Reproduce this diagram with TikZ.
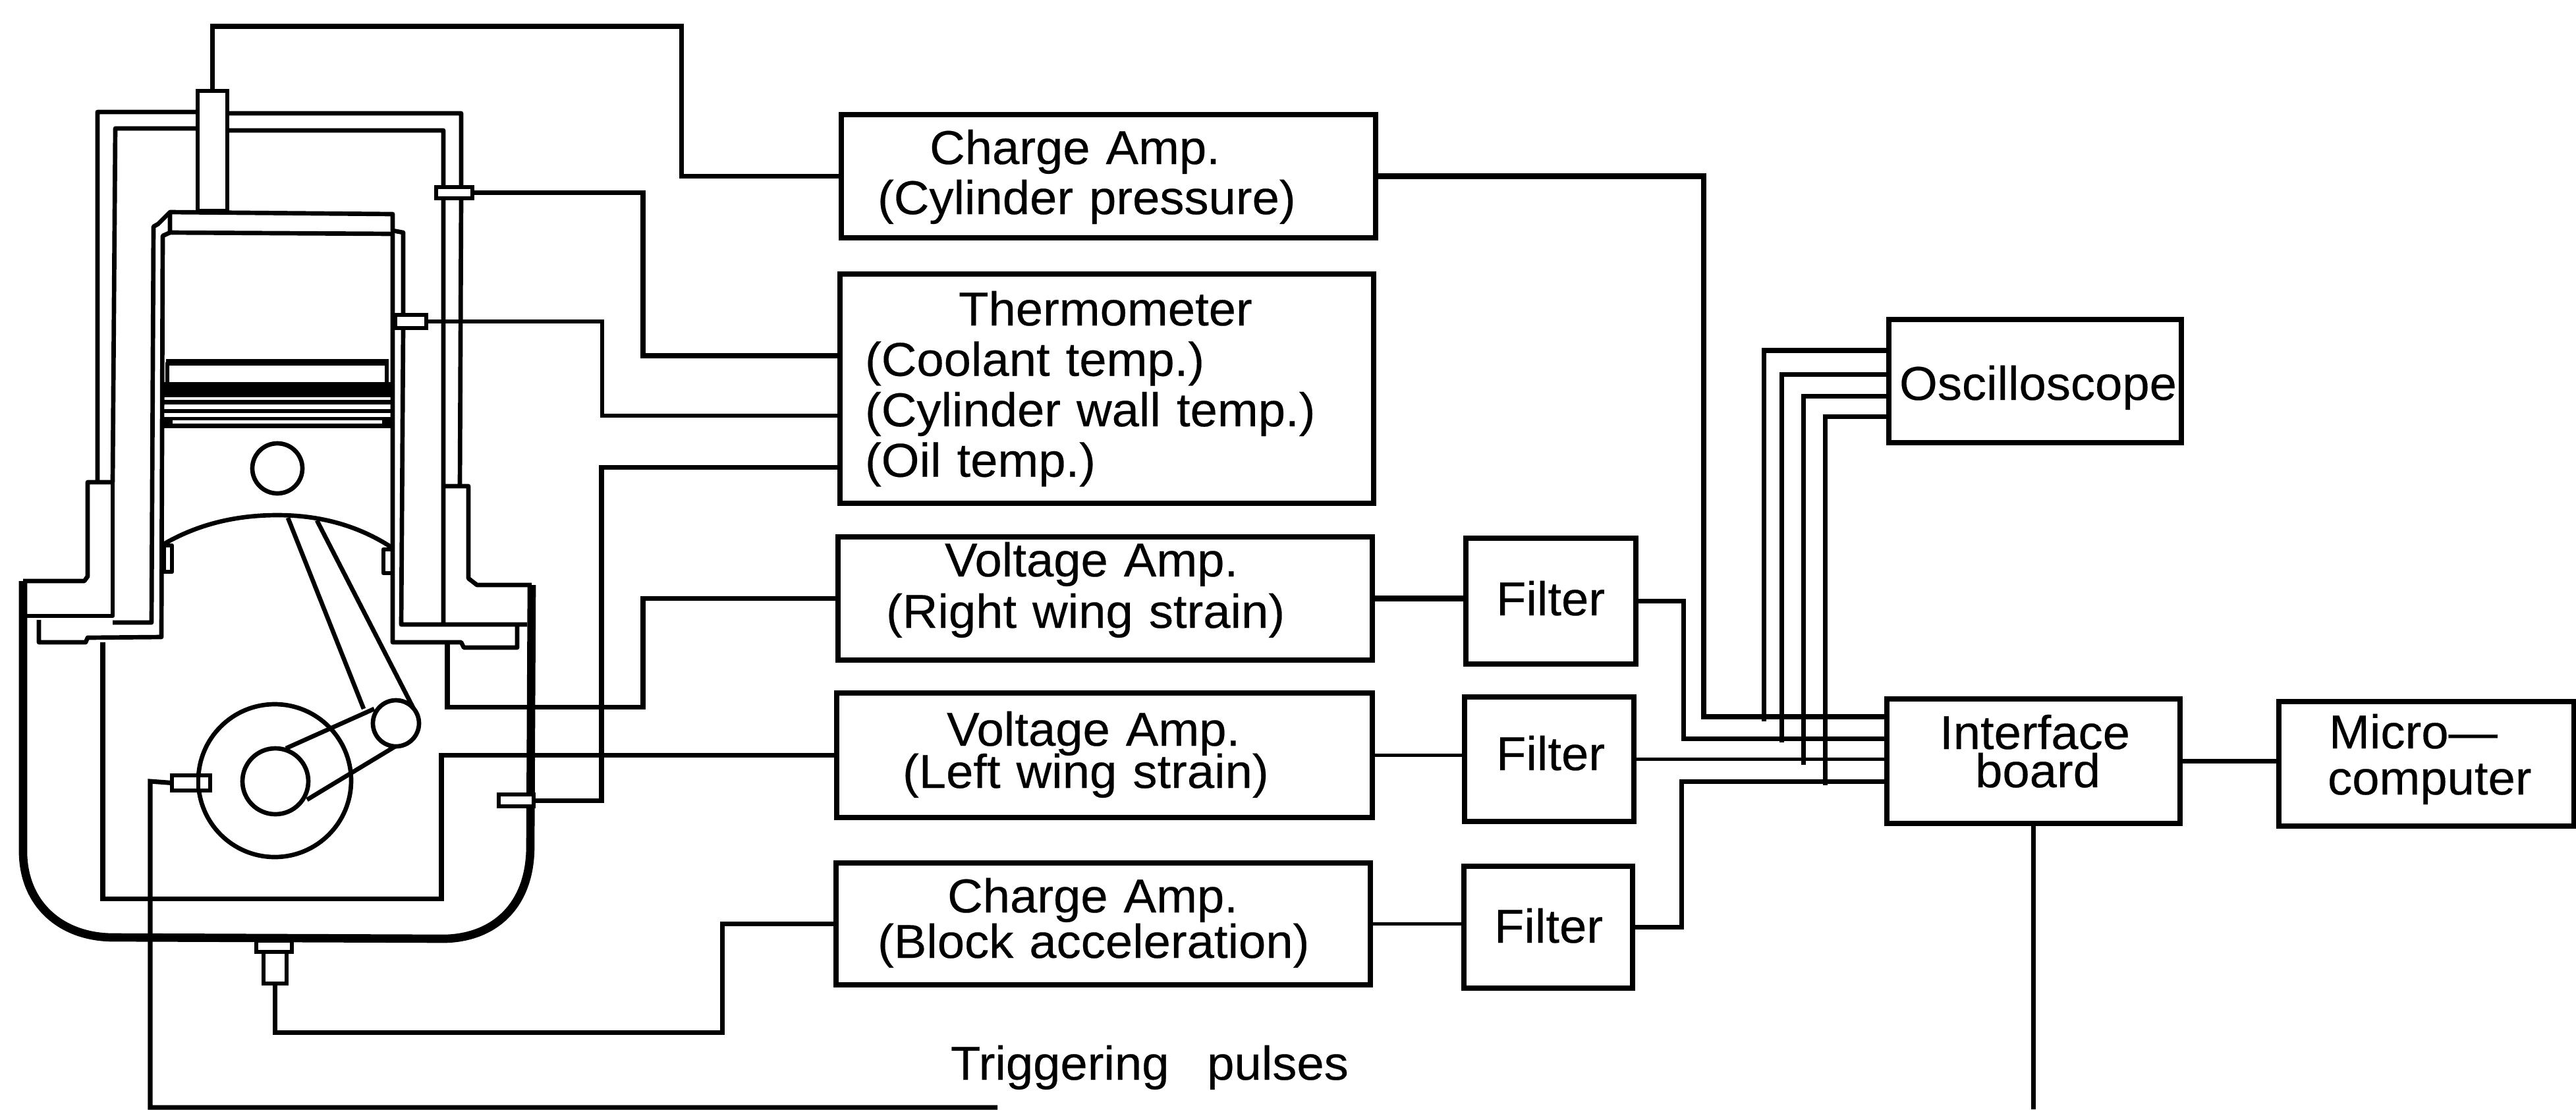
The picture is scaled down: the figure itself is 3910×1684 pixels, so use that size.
\documentclass[tikz,border=0pt]{standalone}
\usepackage{fontspec}
\setmainfont[WordSpace=2.8,FakeStretch=1.03,FakeBold=0.3]{Liberation Sans}
\tikzset{
  wire/.style={line width=2pt,line join=miter},
  thinwire/.style={line width=1.5pt},
  heavywire/.style={line width=2.5pt},
  part/.style={line width=1.9pt,line join=round},
  wall/.style={line width=3.6pt,line join=round},
  box/.style={draw,line width=2.3pt,inner sep=0pt,outer sep=0pt,align=left},
  sensor/.style={draw,fill=white,line width=1.9pt,inner sep=0pt,outer sep=0pt},
  plain/.style={inner sep=0pt,outer sep=0pt,font=\fontsize{20.5}{24}\selectfont}
}
\newcommand\tightlines{\lineskiplimit=-100pt\relax}
\newcommand\mybox[8]{%
  \pgfmathsetmacro\bw{(#4-#2)*0.01}%
  \pgfmathsetmacro\bh{(#6-#3)*0.01}%
  \pgfmathsetmacro\bd{(#5-#6)*0.01}%
  \pgfmathsetmacro\sk{#7*0.28453}%
  \node[box,anchor=north west,text width=\bw cm,text height=\bh cm,text depth=\bd cm,
    font=\fontsize{20.5}{\sk}\selectfont\tightlines] (#1) at (#2,#3) {#8};}
\newcommand\off[1]{\hspace*{#1cm}}
\newcommand\mysensor[5]{%
  \pgfmathsetmacro\sw{(#4-#2)*0.01}%
  \pgfmathsetmacro\sh{(#5-#3)*0.01}%
  \node[sensor,anchor=north west,minimum width=\sw cm,minimum height=\sh cm] (#1) at (#2,#3) {};}
\begin{document}
\begin{tikzpicture}[x=0.01cm,y=-0.01cm]
\useasboundingbox (0,0) rectangle (3910,1684);
% ---------- engine ----------
% coolant jacket and block top
\draw[part] (35,882) -- (128,882) -- (133,875) -- (133,732) -- (171,732);
\draw[part] (148,732) -- (148,170) -- (300,170) (345,172) -- (700,172) -- (700,284) (700,301) -- (698,738);
\draw[part] (171,732) -- (175,195) -- (300,195) (345,198) -- (673,198) -- (673,284) (673,301) -- (673,945);
\draw[part] (171,732) -- (171,935) -- (35,935);
\draw[part] (673,738) -- (711,738) -- (711,878) -- (724,888) -- (807,888);
\draw[wall] (35,882) -- (35,1296) .. controls (37,1375) and (95,1423) .. (172,1423) -- (676,1425) .. controls (750,1423) and (805,1375) .. (805,1285) -- (807,888);
% cylinder walls and head
\draw[part] (171,945) -- (230,945) -- (233,344) -- (240,340) -- (258,322) -- (596,325) -- (596,350) -- (612,353) -- (612,478);
\draw[part] (612,498) -- (609,948) -- (800,948);
\draw[part] (258,322) -- (258,353) -- (596,355) -- (596,975) -- (700,975) -- (704,983) -- (785,983) -- (785,949);
\draw[part] (258,353) -- (247,358) -- (245,967) -- (133,968) -- (130,975) -- (59,975) -- (59,941);
% piston
\draw[line width=3pt] (252,550) -- (590,550);
\draw[part] (254,550) -- (254,582) (587,550) -- (587,582);
\fill (246,580) rectangle (594,603);
\fill (248,607) rectangle (594,614);
\fill (248,621) rectangle (594,627);
\fill (248,633) rectangle (594,650);
\fill[white] (262,638) rectangle (580,643);
\draw[part] (421,711) circle [radius=38];
\draw[part] (245,828) .. controls (300,795) and (360,782) .. (421,782) .. controls (480,782) and (540,795) .. (596,832);
\draw[part] (249,828) rectangle (261,868);
\draw[part] (582,834) rectangle (596,870);
% connecting rod and crank
\draw[part] (437,786) -- (552,1076) (481,790) -- (628,1076);
\draw[part] (601,1098) circle [radius=35];
\draw[part] (417,1185) circle [radius=116];
\draw[part] (418,1186) circle [radius=50];
\draw[part] (434,1136) -- (568,1076) (466,1214) -- (600,1133);
% sensors
\mysensor{ps}{300}{138}{345}{320}
\mysensor{cs}{662}{284}{717}{301}
\mysensor{ws}{600}{478}{647}{498}
\mysensor{os}{757}{1206}{810}{1224}
\mysensor{ts}{261}{1177}{319}{1200}
\draw[part] (ts.north) ++(11,0) -- ++(0,23);
\mysensor{au}{389}{1428}{443}{1445}
\mysensor{as}{400}{1445}{435}{1493}
% strain gauge tapping points
\coordinate (fr) at (679,978);
\coordinate (fl) at (156,975);
% ---------- boxes ----------
\mybox{c1}{1277}{174}{2088}{361}{249}{76}{\off{1.34}Charge Amp.\\\off{0.55}(Cylinder pressure)}
\mybox{th}{1275}{416}{2085}{764}{494}{76.5}{\off{1.80}Thermometer\\\off{0.38}(Coolant temp.)\\\off{0.38}(Cylinder wall temp.)\\\off{0.38}(Oil temp.)}
\mybox{v1}{1272}{815}{2083}{1002}{875}{78}{\off{1.62}Voltage Amp.\\\off{0.73}(Right wing strain)}
\mybox{v2}{1270}{1052}{2083}{1241}{1132}{64}{\off{1.67}Voltage Amp.\\\off{1.00}(Left wing strain)}
\mybox{c2}{1269}{1310}{2080}{1495}{1385}{69}{\off{1.69}Charge Amp.\\\off{0.63}(Block acceleration)}
\mybox{f1}{2225}{817}{2483}{1008}{934}{76}{\off{0.46}Filter}
\mybox{f2}{2223}{1058}{2480}{1247}{1169}{76}{\off{0.48}Filter}
\mybox{f3}{2222}{1315}{2478}{1500}{1431}{76}{\off{0.46}Filter}
\mybox{ob}{2867}{485}{3311}{672}{607}{76}{\off{0.16}Oscilloscope}
\mybox{ib}{2864}{1061}{3309}{1250}{1137}{58}{\off{0.80}Interface\\\off{1.34}board}
\mybox{mc}{3459}{1065}{3907}{1254}{1136}{70}{\off{0.76}Micro—\\\off{0.74}computer}
\node[plain,anchor=base west] (tp) at (1443,1639) {Triggering pulses};
% ---------- connector ends ----------
\coordinate (th1) at (th.west |- 0,540);
\coordinate (th2) at (th.west |- 0,631);
\coordinate (th3) at (th.west |- 0,709);
\coordinate (b1) at (ib.west |- 0,1088);
\coordinate (b2) at (ib.west |- 0,1121);
\coordinate (b3) at (ib.west |- f2.east);
\coordinate (b4) at (ib.west |- 0,1186);
\coordinate (o1) at (ob.west |- 0,532);
\coordinate (o2) at (ob.west |- 0,568);
\coordinate (o3) at (ob.west |- 0,601);
\coordinate (o4) at (ob.west |- 0,632);
\coordinate (trigend) at (1514,1681);
\coordinate (pulseend) at (ib.south |- 0,1684);
% ---------- connectors ----------
\draw[wire] (ps.north) |- (1034,40) |- (c1.west);
\draw[wire] (cs.east) -| (976,540) -- (th1);
\draw[thinwire] (ws.east) -| (914,631) -- (th2);
\draw[wire] (os.east) -| (913,709) -- (th3);
\draw[wire] (fr) |- (976,1073) |- (v1.west);
\draw[wire] (fl) |- (670,1364) |- (v2.west);
\draw[wire] (as.south) |- (1096,1567) |- (c2.west);
\draw[wire] (ts.west) -- (228,1186) |- (trigend);
\draw[heavywire] (c1.east) -| (2586,1088) -- (b1);
\draw[heavywire] (v1.east) -- (v1.east -| f1.west);
\draw[thinwire] (v2.east) -- (v2.east -| f2.west);
\draw[thinwire] (c2.east) -- (c2.east -| f3.west);
\draw[wire] (f1.east) -| (2555,1121) -- (b2);
\draw[thinwire] (f2.east) -- (b3);
\draw[wire] (f3.east) -| (2552,1186) -- (b4);
\draw[wire] (o1) -| (2677,1095);
\draw[wire] (o2) -| (2704,1127);
\draw[wire] (o3) -| (2737,1161);
\draw[wire] (o4) -| (2770,1192);
\draw[wire] (ib.east) -- (ib.east -| mc.west);
\draw[wire] (ib.south) -- (pulseend);
\end{tikzpicture}
\end{document}
